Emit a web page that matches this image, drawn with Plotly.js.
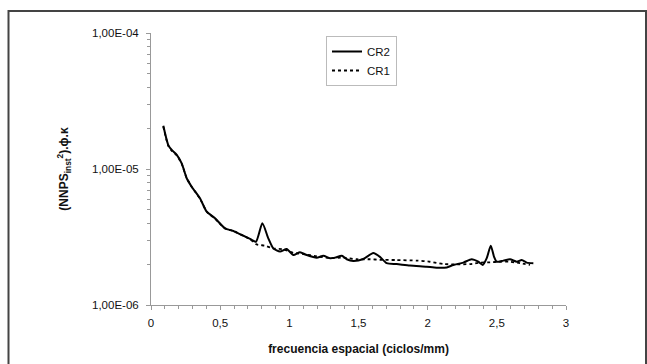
<!DOCTYPE html>
<html>
<head>
<meta charset="utf-8">
<script src="https://cdn.plot.ly/plotly-3.0.1.min.js"></script>
<style>html,body{margin:0;padding:0;background:#fff;}#chart{width:647px;height:364px;}</style>
</head>
<body>
<div id="chart"></div>
<script>
// CR2 (solid)
const cr2X = [0.089,0.125,0.150,0.186,0.222,0.258,0.294,0.354,0.403,0.463,0.535,0.595,0.656,0.716,0.759,0.805,0.848,0.884,0.933,0.981,1.029,1.077,1.126,1.198,1.246,1.294,1.330,1.379,1.415,1.462,1.535,1.607,1.655,1.704,1.776,1.872,1.993,2.065,2.138,2.185,2.258,2.318,2.366,2.398,2.427,2.456,2.480,2.499,2.547,2.595,2.644,2.680,2.716,2.764];
const cr2Y = [2.08e-5,1.50e-5,1.38e-5,1.27e-5,1.10e-5,8.55e-6,7.41e-6,6.09e-6,4.85e-6,4.34e-6,3.66e-6,3.50e-6,3.27e-6,3.06e-6,2.92e-6,3.99e-6,3.09e-6,2.61e-6,2.47e-6,2.58e-6,2.33e-6,2.44e-6,2.33e-6,2.23e-6,2.30e-6,2.21e-6,2.23e-6,2.30e-6,2.17e-6,2.11e-6,2.18e-6,2.41e-6,2.26e-6,2.03e-6,2.00e-6,1.95e-6,1.91e-6,1.88e-6,1.89e-6,1.97e-6,2.05e-6,2.17e-6,2.08e-6,1.97e-6,2.21e-6,2.73e-6,2.26e-6,2.08e-6,2.12e-6,2.17e-6,2.08e-6,2.14e-6,2.05e-6,2.03e-6];
// CR1 (dashed)
const cr1X = [0.089,0.125,0.150,0.186,0.222,0.258,0.294,0.354,0.403,0.463,0.535,0.595,0.656,0.716,0.764,0.824,0.882,0.956,1.029,1.100,1.200,1.294,1.390,1.487,1.583,1.655,1.776,1.921,2.017,2.113,2.210,2.306,2.378,2.451,2.523,2.595,2.668,2.740];
const cr1Y = [2.05e-5,1.48e-5,1.36e-5,1.26e-5,1.09e-5,8.6e-6,7.4e-6,6.05e-6,4.85e-6,4.3e-6,3.66e-6,3.5e-6,3.27e-6,3.05e-6,2.79e-6,2.73e-6,2.61e-6,2.57e-6,2.42e-6,2.37e-6,2.28e-6,2.21e-6,2.23e-6,2.17e-6,2.17e-6,2.15e-6,2.14e-6,2.12e-6,2.08e-6,2.00e-6,1.99e-6,2.00e-6,2.05e-6,2.06e-6,2.08e-6,2.08e-6,2.03e-6,1.97e-6];

const xTickVals = [0,0.5,1,1.5,2,2.5,3];
const xTickText = ['0','0,5','1','1,5','2','2,5','3'];
const yTickVals = [1e-6,1e-5,1e-4];
const yTickText = ['1,00E-06','1,00E-05','1,00E-04'];

const traces = [
  {x: cr2X, y: cr2Y, name: 'CR2', mode: 'lines', type: 'scatter',
   line: {color: '#000', width: 2, shape: 'spline', smoothing: 0.6}},
  {x: cr1X, y: cr1Y, name: 'CR1', mode: 'lines', type: 'scatter',
   line: {color: '#000', width: 1.8, dash: '3px,3px', shape: 'spline', smoothing: 0.6}}
];

const L = 151, R = 566, T = 33, B = 305, W = 647, H = 364;
const pw = R - L, ph = B - T;

const layout = {
  width: W, height: H,
  margin: {l: L, r: W - R, t: T, b: H - B, pad: 0},
  paper_bgcolor: '#fff', plot_bgcolor: '#fff',
  font: {family: 'Liberation Sans, Arial, sans-serif', size: 11, color: '#111'},
  showlegend: true,
  legend: {x: (326 - L) / pw, y: (B - 36) / ph, xanchor: 'left', yanchor: 'top',
           bordercolor: '#bbb', borderwidth: 1, bgcolor: '#fff',
           font: {size: 11.5, color: '#111'}, tracegroupgap: 0, itemwidth: 30},
  xaxis: {range: [0, 3], tickvals: xTickVals, ticktext: xTickText,
          showgrid: false, zeroline: false, showline: true, linecolor: '#999', linewidth: 1,
          ticks: 'outside', ticklen: 4, tickcolor: '#999', ticklabelstandoff: 3,
          minor: {dtick: 0.1, ticks: 'outside', ticklen: 3, tickcolor: '#999', showgrid: false},
          tickfont: {size: 11.5, color: '#111'},
          title: {text: '<b>frecuencia espacial (ciclos/mm)</b>', font: {size: 12, color: '#111'}, standoff: 16}},
  yaxis: {type: 'log', range: [-6, -4], tickvals: yTickVals, ticktext: yTickText,
          showgrid: false, zeroline: false, showline: true, linecolor: '#999', linewidth: 1,
          ticks: 'outside', ticklen: 4, tickcolor: '#999', ticklabelstandoff: 5,
          minor: {dtick: 'D1', ticks: 'outside', ticklen: 3, tickcolor: '#999', showgrid: false},
          tickfont: {size: 11.5, color: '#111'},
          title: {text: '<b>(NNPS<sub>inst</sub><sup>2</sup>).ϕ.κ</b>', font: {size: 12, color: '#111'}, standoff: 20}},
  shapes: [{type: 'rect', xref: 'paper', yref: 'paper', layer: 'below',
            x0: (8.5 - L) / pw, x1: (646 - L) / pw, y0: (B - 380) / ph, y1: (B - 11) / ph,
            line: {color: '#444', width: 2}, fillcolor: 'rgba(0,0,0,0)'}]
};

Plotly.newPlot('chart', traces, layout, {staticPlot: true, displayModeBar: false});
</script>
</body>
</html>
